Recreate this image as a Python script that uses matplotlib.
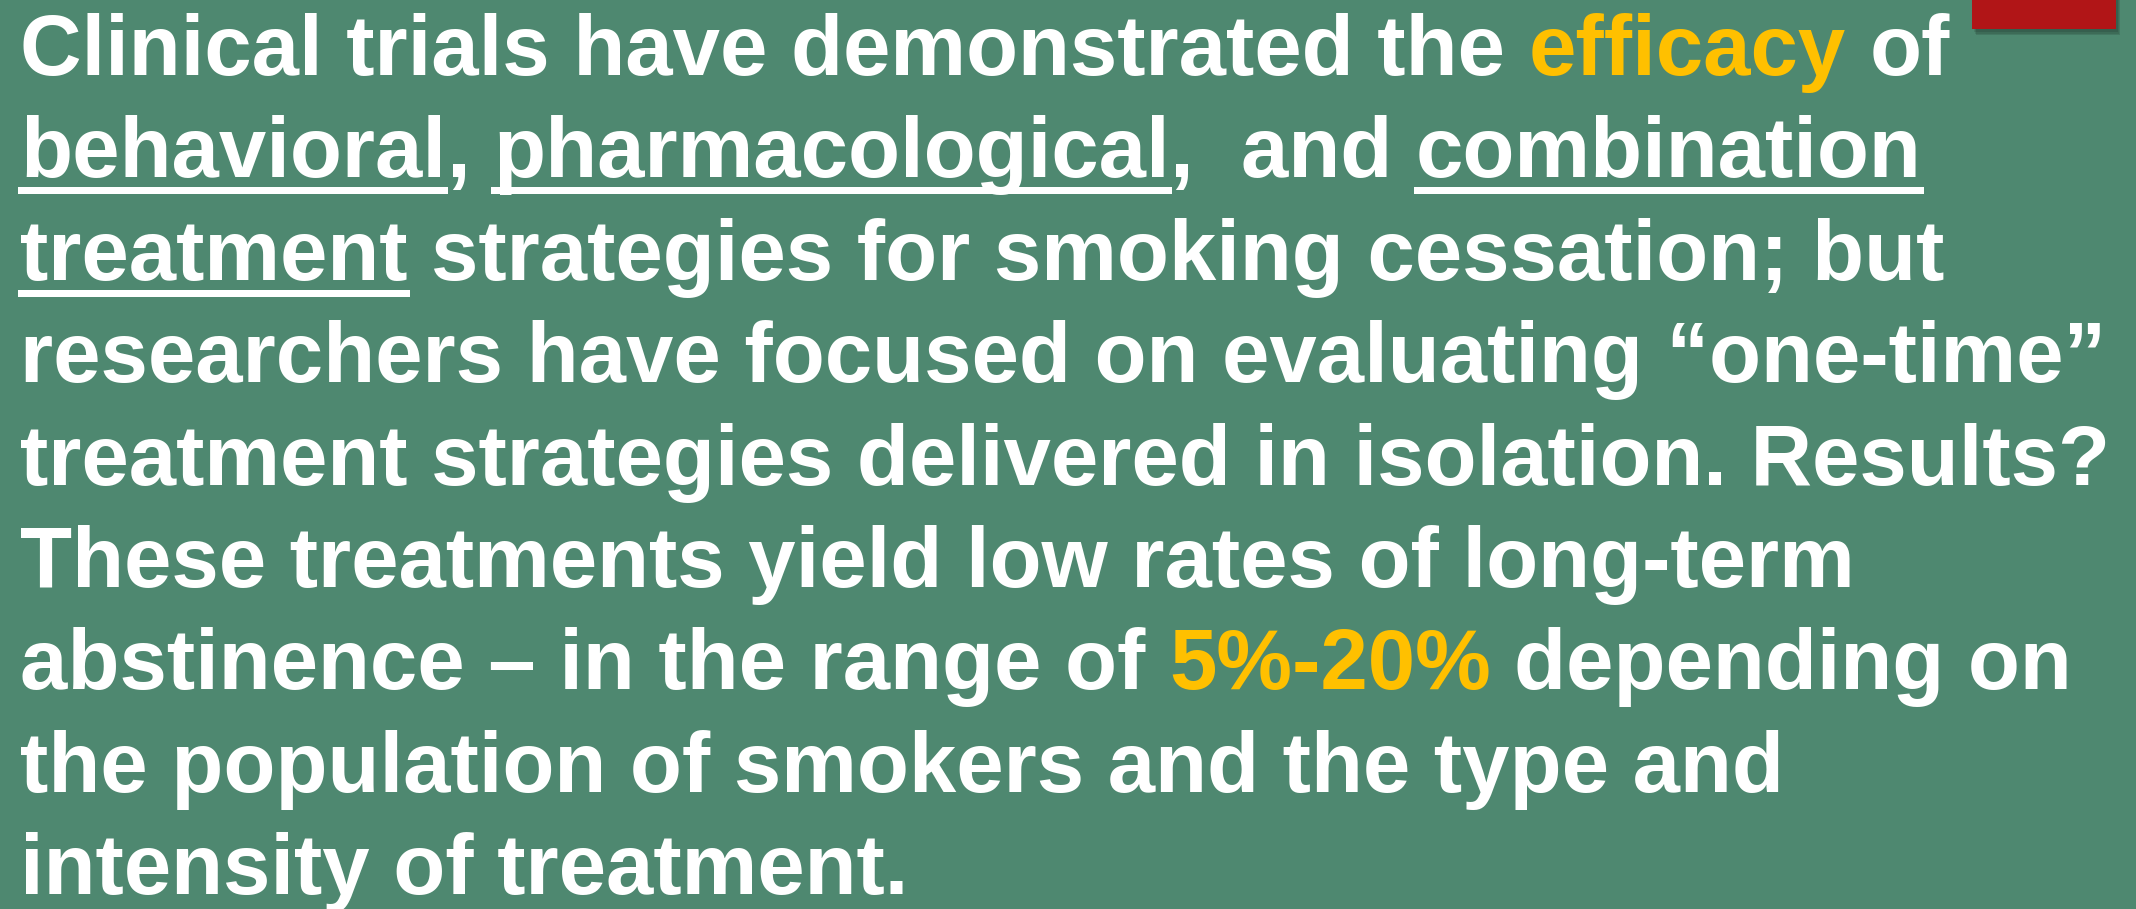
import matplotlib
matplotlib.use("Agg")
import matplotlib.pyplot as plt
from matplotlib.font_manager import FontProperties
from matplotlib.patches import Rectangle

# slide text: each line is a list of (text, style) segments
# style: "w" white, "y" yellow highlight, "u" white underlined
line1 = [("Clinical trials have demonstrated the ", "w"), ("efficacy", "y"), (" of", "w")]
line2 = [("behavioral", "u"), (", ", "w"), ("pharmacological", "u"), (",  and ", "w"), ("combination", "u")]
line3 = [("treatment", "u"), (" strategies for smoking cessation; but", "w")]
line4 = [("researchers have focused on evaluating \u201cone-time\u201d", "w")]
line5 = [("treatment strategies delivered in isolation. Results?", "w")]
line6 = [("These treatments yield low rates of long-term", "w")]
line7 = [("abstinence \u2013 in the range of ", "w"), ("5%-20%", "y"), (" depending on", "w")]
line8 = [("the population of smokers and the type and", "w")]
line9 = [("intensity of treatment.", "w")]
lines = [line1, line2, line3, line4, line5, line6, line7, line8, line9]

BG = "#4E8870"
WHITE = "#FFFFFF"
YELLOW = "#FFC000"
RED = "#B11517"

W, H = 2136, 909
fig = plt.figure(figsize=(W / 100, H / 100), dpi=100)
fig.patch.set_facecolor(BG)
ax = fig.add_axes([0, 0, 1, 1])
ax.set_xlim(0, W)
ax.set_ylim(H, 0)
ax.axis("off")

# red tab in the top right corner, with a soft shadow
for k, a in enumerate([0.10, 0.10, 0.12]):
    ax.add_patch(Rectangle((1972 + 2 + k, 0), 144, 29 + 3 + k * 1.5, color="black", alpha=a, lw=0))
ax.add_patch(Rectangle((1972, 0), 144, 29, color=RED, lw=0))

prop = FontProperties(family="Liberation Sans", weight="bold", size=61.3)
renderer = fig.canvas.get_renderer()


def width(s):
    w, _, _ = renderer.get_text_width_height_descent(s, prop, ismath=False)
    return w


x0 = 20
y0 = 75
dy = 102.4
colors = {"w": WHITE, "y": YELLOW, "u": WHITE}

for i, segs in enumerate(lines):
    y = y0 + i * dy
    full = ""
    for text, style in segs:
        start = len(full)
        full += text
        word = text.strip()
        if not word:
            continue
        end = start + len(text.rstrip())
        right = x0 + width(full[:end].lstrip())
        ax.text(right, y, word, fontproperties=prop, color=colors[style],
                ha="right", va="baseline")
        if style == "u":
            left = right - width(word)
            ax.add_patch(Rectangle((left - 2, y + 10), width(word) + 4, 7, color=WHITE, lw=0))

fig.savefig("out.png", dpi=100, facecolor=BG)
